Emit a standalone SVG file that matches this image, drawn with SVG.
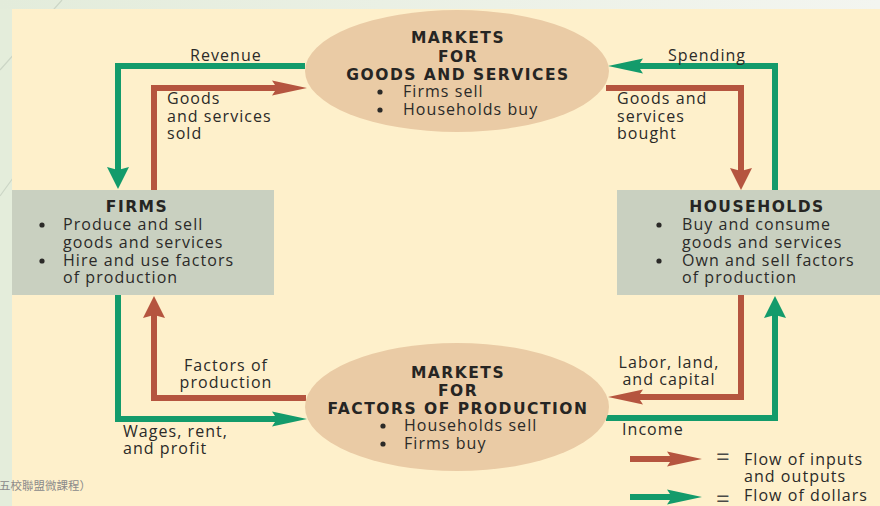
<svg xmlns="http://www.w3.org/2000/svg" width="880" height="506" viewBox="0 0 880 506">
  <style>
    .t { font-family: "Open Sans", "Noto Sans", sans-serif; font-size: 16px; fill: #2b2a28; letter-spacing: 1.05px; }
    .b { font-family: "DejaVu Sans", "Open Sans", sans-serif; font-weight: bold; font-size: 15.5px; letter-spacing: 1.5px; fill: #262523; }
    .c { text-anchor: middle; }
    .eq { font-family: "Open Sans", sans-serif; font-size: 24px; fill: #4a4a48; }
    .dot { fill: #2b2a28; }
    .red { fill: none; stroke: #B5553F; stroke-width: 6; stroke-linejoin: miter; }
    .grn { fill: none; stroke: #139B6B; stroke-width: 6; stroke-linejoin: miter; }
    .mkt { fill: #EACBA5; }
    .box { fill: #C9D0C0; }
  </style>
  <defs>
    <linearGradient id="topband" x1="0" y1="0" x2="1" y2="0">
      <stop offset="0" stop-color="#E3ECDB"/>
      <stop offset="1" stop-color="#F3F5F0"/>
    </linearGradient>
    <!-- horizontal heads are long and flat, vertical ones short and wide -->
    <marker id="redH" markerUnits="userSpaceOnUse" orient="auto" refX="5" refY="0" markerWidth="40" markerHeight="20" overflow="visible">
      <path d="M0,-7.5 L35,0 L0,7.5 L5,0 Z" fill="#B5553F"/>
    </marker>
    <marker id="grnH" markerUnits="userSpaceOnUse" orient="auto" refX="5" refY="0" markerWidth="40" markerHeight="20" overflow="visible">
      <path d="M0,-7.5 L35,0 L0,7.5 L5,0 Z" fill="#139B6B"/>
    </marker>
    <marker id="redV" markerUnits="userSpaceOnUse" orient="auto" refX="3" refY="0" markerWidth="25" markerHeight="25" overflow="visible">
      <path d="M0,-11 L22,0 L0,11 L3,0 Z" fill="#B5553F"/>
    </marker>
    <marker id="grnV" markerUnits="userSpaceOnUse" orient="auto" refX="3" refY="0" markerWidth="25" markerHeight="25" overflow="visible">
      <path d="M0,-11 L22,0 L0,11 L3,0 Z" fill="#139B6B"/>
    </marker>
  </defs>

  <!-- page background and cream panel -->
  <rect x="0" y="0" width="880" height="506" fill="#E4EDDB"/>
  <rect x="0" y="0" width="880" height="9" fill="url(#topband)"/>
  <path d="M62,0 L0,70 M13,178 L0,196" stroke="#CCD6C6" stroke-width="1.2" fill="none"/>
  <rect x="12" y="9" width="868" height="497" fill="#FEF0CB"/>

  <!-- flows -->
  <g id="connectors">
    <path id="revenue" class="grn" d="M305,66 H118 V170" marker-end="url(#grnV)"/>
    <path id="goods-sold" class="red" d="M154,190 V88 H277" marker-end="url(#redH)"/>
    <path id="spending" class="grn" d="M775,190 V66 H638" marker-end="url(#grnH)"/>
    <path id="goods-bought" class="red" d="M606,88 H741 V171" marker-end="url(#redV)"/>
    <path id="factors" class="red" d="M306,398 H154 V315" marker-end="url(#redV)"/>
    <path id="wages" class="grn" d="M118,295 V419 H277" marker-end="url(#grnH)"/>
    <path id="labor" class="red" d="M741,295 V397 H638" marker-end="url(#redH)"/>
    <path id="income" class="grn" d="M606,418 H775 V315" marker-end="url(#grnV)"/>
  </g>

  <!-- product market -->
  <g id="goods-market">
    <ellipse class="mkt" cx="457" cy="71" rx="152" ry="61"/>
    <text class="b c" x="458" y="43">MARKETS</text>
    <text class="b c" x="458" y="62">FOR</text>
    <text class="b c" x="458" y="80">GOODS AND SERVICES</text>
    <circle class="dot" cx="380" cy="92" r="2.6"/>
    <text class="t" x="403" y="97">Firms sell</text>
    <circle class="dot" cx="380" cy="110" r="2.6"/>
    <text class="t" x="403" y="115">Households buy</text>
  </g>

  <!-- factor market -->
  <g id="factor-market">
    <ellipse class="mkt" cx="457" cy="407" rx="152" ry="64"/>
    <text class="b c" x="458" y="378">MARKETS</text>
    <text class="b c" x="458" y="396">FOR</text>
    <text class="b c" x="458" y="414">FACTORS OF PRODUCTION</text>
    <circle class="dot" cx="383" cy="426" r="2.6"/>
    <text class="t" x="404" y="431">Households sell</text>
    <circle class="dot" cx="383" cy="444" r="2.6"/>
    <text class="t" x="404" y="449">Firms buy</text>
  </g>

  <g id="firms">
    <rect class="box" x="12" y="190" width="262" height="105"/>
    <text class="b c" x="137" y="212">FIRMS</text>
    <circle class="dot" cx="42" cy="225" r="2.6"/>
    <text class="t" x="63" y="230">Produce and sell</text>
    <text class="t" x="63" y="248">goods and services</text>
    <circle class="dot" cx="42" cy="261" r="2.6"/>
    <text class="t" x="63" y="266">Hire and use factors</text>
    <text class="t" x="63" y="283">of production</text>
  </g>

  <g id="households">
    <rect class="box" x="617" y="190" width="263" height="105"/>
    <text class="b c" x="757" y="212">HOUSEHOLDS</text>
    <circle class="dot" cx="659" cy="225" r="2.6"/>
    <text class="t" x="682" y="230">Buy and consume</text>
    <text class="t" x="682" y="248">goods and services</text>
    <circle class="dot" cx="659" cy="261" r="2.6"/>
    <text class="t" x="682" y="266">Own and sell factors</text>
    <text class="t" x="682" y="283">of production</text>
  </g>

  <!-- flow labels -->
  <g id="labels">
    <text class="t" x="190" y="61">Revenue</text>
    <text class="t" x="167" y="104">Goods</text>
    <text class="t" x="167" y="122">and services</text>
    <text class="t" x="167" y="139">sold</text>
    <text class="t" x="668" y="61">Spending</text>
    <text class="t" x="617" y="104">Goods and</text>
    <text class="t" x="617" y="122">services</text>
    <text class="t" x="617" y="139">bought</text>
    <text class="t c" x="226" y="371">Factors of</text>
    <text class="t c" x="226" y="388">production</text>
    <text class="t c" x="669" y="368">Labor, land,</text>
    <text class="t c" x="669" y="385">and capital</text>
    <text class="t" x="123" y="437">Wages, rent,</text>
    <text class="t" x="123" y="454">and profit</text>
    <text class="t" x="622" y="435">Income</text>
  </g>

  <!-- key -->
  <g id="legend">
    <path class="red" d="M630,459 H672" marker-end="url(#redH)"/>
    <path class="grn" d="M630,497 H672" marker-end="url(#grnH)"/>
    <text class="eq" x="716" y="465">=</text>
    <text class="t" x="744" y="465">Flow of inputs</text>
    <text class="t" x="744" y="482">and outputs</text>
    <text class="eq" x="716" y="507">=</text>
    <text class="t" x="744" y="501">Flow of dollars</text>
  </g>

  <text x="-1" y="490" font-family="'Noto Sans CJK TC', sans-serif" font-size="11.5" fill="#8A8A8A">五校聯盟微課程）</text>
</svg>
